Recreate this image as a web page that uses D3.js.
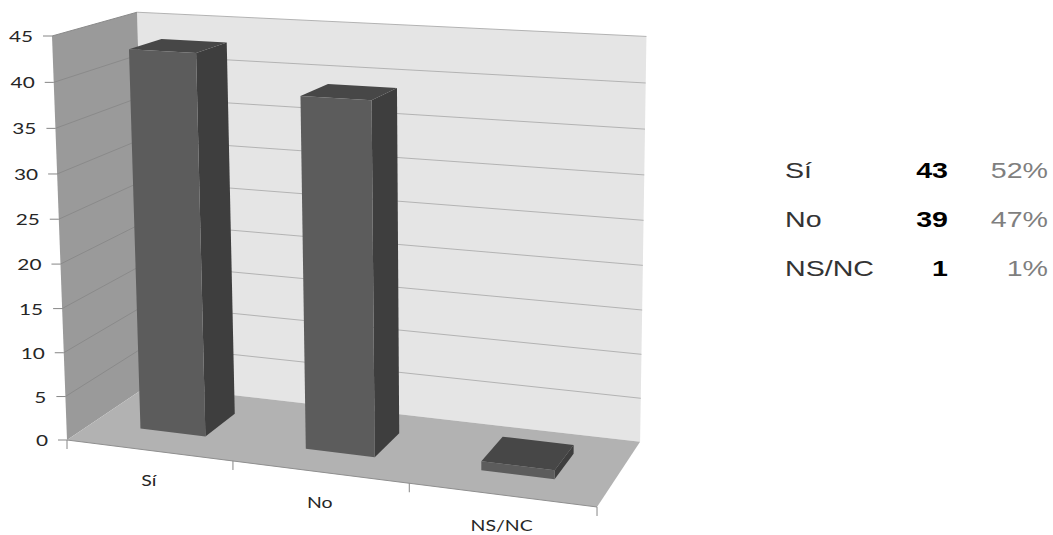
<!DOCTYPE html>
<html>
<head>
<meta charset="utf-8">
<script src="https://cdn.jsdelivr.net/npm/d3@7"></script>
<style>
  html, body { margin: 0; padding: 0; background: #ffffff; }
  svg { display: block; }
</style>
</head>
<body>
<svg id="chart" width="1053" height="535"></svg>
<script>
// ---- data ----
const categories = ["Sí", "No", "NS/NC"];
const counts = [43, 39, 1];
const valueTicks = [0, 5, 10, 15, 20, 25, 30, 35, 40, 45];

// ---- 3-D view: unit box (x = categories, y = values, z = depth)
// drawn in three-point perspective from its vanishing points ----
const view = {
  origin: [67, 440],                 // front-left-bottom corner of the box
  vpX: [-5400, -251], kx: -0.08838,  // category direction
  vpY: [470, 11294],  ky: -0.035885, // value direction
  vpZ: [1103, -258],  kz: 0.08483    // depth direction
};
function project(x, y, z) {
  const a = x * view.kx, b = y * view.ky, c = z * view.kz;
  const w = a + b + c + 1;
  return [
    (a * view.vpX[0] + b * view.vpY[0] + c * view.vpZ[0] + view.origin[0]) / w,
    (a * view.vpX[1] + b * view.vpY[1] + c * view.vpZ[1] + view.origin[1]) / w
  ];
}

// ---- scales ----
const x = d3.scaleBand().domain(categories).range([0, 1])
  .paddingInner(0.6).paddingOuter(0.3);
const y = d3.scaleLinear().domain([0, 45]).range([0, 1]);
const barDepth = [0.3, 0.7];

const svg = d3.select("#chart");
const line = d3.line();
const face = pts => line(pts.map(p => project(p[0], p[1], p[2]))) + "Z";

// ---- walls and floor ----
const box = svg.append("g");
box.append("path").attr("d", face([[0,0,1],[1,0,1],[1,1,1],[0,1,1]]))
  .attr("fill", "#e5e5e5");
box.append("path").attr("d", face([[0,0,0],[0,0,1],[0,1,1],[0,1,0]]))
  .attr("fill", "#9a9a9a");
box.append("path").attr("d", face([[0,0,0],[1,0,0],[1,0,1],[0,0,1]]))
  .attr("fill", "#b2b2b2");

// gridlines on back and side walls
const grid = svg.append("g").attr("fill", "none").attr("stroke-width", 1);
valueTicks.filter(v => v > 0).forEach(v => {
  grid.append("path").attr("d", line([project(0, y(v), 1), project(1, y(v), 1)]))
    .attr("stroke", "#b3b3b3");
  grid.append("path").attr("d", line([project(0, y(v), 0), project(0, y(v), 1)]))
    .attr("stroke", "#8a8a8a");
});

// ---- value axis ----
const vAxis = svg.append("g");
valueTicks.forEach(v => {
  const p = project(0, y(v), 0);
  vAxis.append("line")
    .attr("x1", p[0] - 9).attr("x2", p[0]).attr("y1", p[1]).attr("y2", p[1])
    .attr("stroke", "#868686");
  vAxis.append("g").attr("transform", `translate(${p[0] - 19},${p[1] + 6}) scale(1.3,1)`)
    .append("text").attr("text-anchor", "end")
    .attr("font-family", "Lato, 'Liberation Sans', sans-serif").attr("font-size", 16)
    .attr("fill", "#262626").text(v);
});

// ---- category axis ----
const cAxis = svg.append("g");
cAxis.append("path").attr("d", line([project(0, 0, 0), project(1, 0, 0)]))
  .attr("stroke", "#8f8f8f").attr("fill", "none");
d3.range(categories.length + 1).forEach(i => {
  const p = project(i / categories.length, 0, 0);
  cAxis.append("line")
    .attr("x1", p[0]).attr("x2", p[0]).attr("y1", p[1]).attr("y2", p[1] + 9)
    .attr("stroke", "#868686");
});
categories.forEach(c => {
  const p = project(x(c) + x.bandwidth() / 2, 0, 0);
  cAxis.append("g").attr("transform", `translate(${p[0]},${p[1] + 36}) scale(1.3,1)`)
    .append("text").attr("text-anchor", "middle")
    .attr("font-family", "Lato, 'Liberation Sans', sans-serif").attr("font-size", 15)
    .attr("fill", "#262626").text(c);
});

// ---- columns ----
const bars = svg.append("g");
categories.forEach((c, i) => {
  const x0 = x(c), x1 = x0 + x.bandwidth(), h = y(counts[i]);
  const [zf, zb] = barDepth;
  const g = bars.append("g");
  g.append("path").attr("d", face([[x1,0,zf],[x1,0,zb],[x1,h,zb],[x1,h,zf]]))
    .attr("fill", "#3e3e3e");
  g.append("path").attr("d", face([[x0,h,zf],[x1,h,zf],[x1,h,zb],[x0,h,zb]]))
    .attr("fill", "#474747");
  g.append("path").attr("d", face([[x0,0,zf],[x1,0,zf],[x1,h,zf],[x0,h,zf]]))
    .attr("fill", "#5c5c5c");
});

// ---- summary table ----
const total = d3.sum(counts);
const pct = d3.format(".0%");
const table = svg.append("g")
  .attr("font-family", "'Liberation Sans', Arial, sans-serif").attr("font-size", 22);
categories.forEach((c, i) => {
  const base = 178 + i * 49;
  table.append("g").attr("transform", `translate(785,${base}) scale(1.3,1)`)
    .append("text").attr("fill", "#333333").text(c);
  table.append("g").attr("transform", `translate(948,${base}) scale(1.3,1)`)
    .append("text").attr("text-anchor", "end").attr("font-weight", "bold")
    .attr("fill", "#000000").text(counts[i]);
  table.append("g").attr("transform", `translate(1048,${base}) scale(1.3,1)`)
    .append("text").attr("text-anchor", "end")
    .attr("fill", "#7f7f7f").text(pct(counts[i] / total));
});
</script>
</body>
</html>
